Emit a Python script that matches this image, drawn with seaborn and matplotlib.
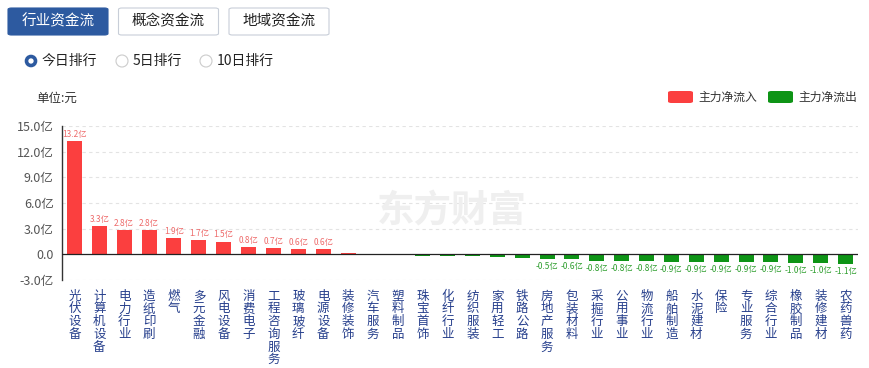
"""industry fund flow bar chart"""

import matplotlib
matplotlib.use('Agg')
import matplotlib.pyplot as plt
from matplotlib.patches import FancyBboxPatch, Ellipse
import seaborn as sns
import pandas as pd
import numpy as np

# ---------------------------- data ----------------------------
industries = ['光伏设备', '计算机设备', '电力行业', '造纸印刷', '燃气', '多元金融', '风电设备',
              '消费电子', '工程咨询服务', '玻璃玻纤', '电源设备', '装修装饰', '汽车服务',
              '塑料制品', '珠宝首饰', '化纤行业', '纺织服装', '家用轻工', '铁路公路',
              '房地产服务', '包装材料', '采掘行业', '公用事业', '物流行业', '船舶制造',
              '水泥建材', '保险', '专业服务', '综合行业', '橡胶制品', '装修建材', '农药兽药']
net_flow = [13.2, 3.3, 2.8, 2.8, 1.9, 1.7, 1.5,
            0.8, 0.7, 0.6, 0.6, 0.2, 0.01,
            -0.12, -0.17, -0.2, -0.25, -0.28, -0.42,
            -0.5, -0.6, -0.8, -0.8, -0.8, -0.9,
            -0.9, -0.9, -0.9, -0.9, -1.0, -1.0, -1.1]
y_ticks = [-3.0, 0.0, 3.0, 6.0, 9.0, 12.0, 15.0]
tab_names = ['行业资金流', '概念资金流', '地域资金流']
radio_names = ['今日排行', '5日排行', '10日排行']
legend_names = ['主力净流入', '主力净流出']

RED = '#fb3f3f'
GREEN = '#0e9416'
BLUE = '#2d5aa0'
FONTS = ['Noto Sans CJK SC', 'DejaVu Sans']

sns.set_style('white')
plt.rcParams['font.family'] = FONTS
plt.rc('axes', unicode_minus=False)

W, H = 869, 368
fig = plt.figure(figsize=(W / 100, H / 100), dpi=100)
ax = fig.add_axes([62 / W, 1 - 280 / H, (858 - 62) / W, (280 - 126) / H])


def fx(px):
    return px / W


def fy(py):
    return 1 - py / H


df = pd.DataFrame({'industry': industries, 'flow': net_flow})
df['side'] = np.where(df['flow'] >= 0, legend_names[0], legend_names[1])

sns.barplot(data=df, x='industry', y='flow', hue='side', dodge=False, width=0.6,
            palette={legend_names[0]: RED, legend_names[1]: GREEN},
            saturation=1, legend=False, ax=ax, zorder=2, linewidth=0)

# value labels (only for |value| >= 0.45)
for p in ax.patches:
    h = p.get_height()
    if np.isnan(h) or abs(h) < 0.45:
        continue
    xc = p.get_x() + p.get_width() / 2
    if h > 0:
        ax.text(xc, h + 0.25, f'{h:.1f}亿', ha='center', va='bottom',
                fontsize=6, color='#ee6b6b')
    else:
        ax.text(xc, h - 0.35, f'{h:.1f}亿', ha='center', va='top',
                fontsize=6, color='#2e9e2e')

ax.set_ylim(-3, 15)
ax.set_xlim(-0.5, len(industries) - 0.5)
ax.set_yticks(y_ticks)
ax.set_yticklabels(['0.0' if t == 0 else f'{t:.1f}亿' for t in y_ticks],
                   fontsize=9, color='#555555')
ax.set_xticks(range(len(industries)))
ax.set_xticklabels(['\n'.join(s) for s in industries], fontsize=9,
                   color='#263f8c', va='top', linespacing=0.97)
ax.tick_params(axis='x', length=0, pad=7)
ax.tick_params(axis='y', length=0, pad=6)
ax.set_xlabel('')
ax.set_ylabel('')

for t in y_ticks:
    if t != 0:
        ax.axhline(t, color='#e3e3e3', lw=0.8, ls=(0, (3, 3)), zorder=0)
ax.axhline(0, color='#222222', lw=0.9, zorder=5)
for s in ['top', 'right', 'bottom']:
    ax.spines[s].set_visible(False)
ax.spines['left'].set_color('#333333')
ax.spines['left'].set_linewidth(1)

# watermark
fig.text(fx(452), fy(211), '东方财富', fontsize=27, fontweight='bold', style='italic',
         color='#efefef', ha='center', va='center', zorder=0)

# tabs
for i, name in enumerate(tab_names):
    x0 = 8 + i * 110.5
    active = i == 0
    box = FancyBboxPatch((fx(x0), fy(35)), fx(100), 27 / H,
                         boxstyle='round,pad=0,rounding_size=0.004',
                         transform=fig.transFigure,
                         fc=BLUE if active else 'white',
                         ec=BLUE if active else '#c8ced8', lw=0.8)
    fig.patches.append(box)
    fig.text(fx(x0 + 50), fy(21.5), name, fontsize=10.5,
             color='white' if active else '#222222', ha='center', va='center')

# radio buttons
radio_x = [31, 122, 206]
for i, (rx, name) in enumerate(zip(radio_x, radio_names)):
    if i == 0:
        fig.patches.append(Ellipse((fx(rx), fy(61)), 9 / W, 9 / H,
                                   transform=fig.transFigure,
                                   fc='white', ec=BLUE, lw=2.6))
    else:
        fig.patches.append(Ellipse((fx(rx), fy(61)), 12 / W, 12 / H,
                                   transform=fig.transFigure,
                                   fc='white', ec='#cccccc', lw=0.8))
    fig.text(fx(rx + 11), fy(61), name, fontsize=10, color='#222222', va='center')

fig.text(fx(36), fy(98), '单位:元', fontsize=9, color='#333333', va='center')

# legend
for i, (lx, name) in enumerate(zip([668, 768], legend_names)):
    fig.patches.append(FancyBboxPatch((fx(lx), fy(103)), fx(25), 12 / H,
                                      boxstyle='round,pad=0,rounding_size=0.004',
                                      transform=fig.transFigure,
                                      fc=[RED, GREEN][i], ec='none'))
    fig.text(fx(lx + 30), fy(97), name, fontsize=8.5, color='#333333', va='center')

plt.savefig('out.png', dpi=100)
